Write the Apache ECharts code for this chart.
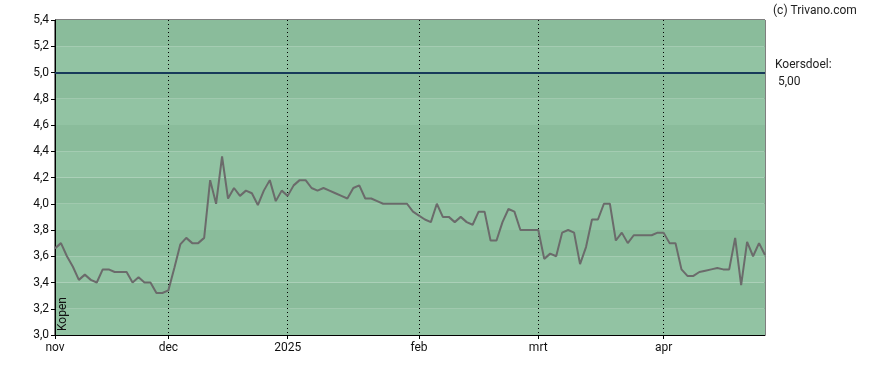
<!DOCTYPE html>
<html><head><meta charset="utf-8">
<script src="https://cdn.jsdelivr.net/npm/echarts@6/dist/echarts.min.js"></script>
<style>html,body{margin:0;padding:0;background:#fff}#c{width:888px;height:370px}</style>
</head><body><div id="c"></div>
<script>
// Trading days, Nov 5 2024 - Apr 28 2025
const dates = [
 '2024-11-05','2024-11-06','2024-11-07','2024-11-08','2024-11-11','2024-11-12','2024-11-13','2024-11-14','2024-11-15',
 '2024-11-18','2024-11-19','2024-11-20','2024-11-21','2024-11-22','2024-11-25','2024-11-26','2024-11-27','2024-11-28','2024-11-29',
 '2024-12-02','2024-12-03','2024-12-04','2024-12-05','2024-12-06','2024-12-09','2024-12-10','2024-12-11','2024-12-12','2024-12-13',
 '2024-12-16','2024-12-17','2024-12-18','2024-12-19','2024-12-20','2024-12-23','2024-12-24','2024-12-27','2024-12-30','2024-12-31',
 '2025-01-02','2025-01-03','2025-01-06','2025-01-07','2025-01-08','2025-01-09','2025-01-10','2025-01-13','2025-01-14','2025-01-15',
 '2025-01-16','2025-01-17','2025-01-20','2025-01-21','2025-01-22','2025-01-23','2025-01-24','2025-01-27','2025-01-28','2025-01-29',
 '2025-01-30','2025-01-31',
 '2025-02-03','2025-02-04','2025-02-05','2025-02-06','2025-02-07','2025-02-10','2025-02-11','2025-02-12','2025-02-13','2025-02-14',
 '2025-02-17','2025-02-18','2025-02-19','2025-02-20','2025-02-21','2025-02-24','2025-02-25','2025-02-26','2025-02-27','2025-02-28',
 '2025-03-03','2025-03-04','2025-03-05','2025-03-06','2025-03-07','2025-03-10','2025-03-11','2025-03-12','2025-03-13','2025-03-14',
 '2025-03-17','2025-03-18','2025-03-19','2025-03-20','2025-03-21','2025-03-24','2025-03-25','2025-03-26','2025-03-27','2025-03-28',
 '2025-03-31',
 '2025-04-01','2025-04-02','2025-04-03','2025-04-04','2025-04-07','2025-04-08','2025-04-09','2025-04-10','2025-04-11',
 '2025-04-14','2025-04-15','2025-04-16','2025-04-17','2025-04-22','2025-04-23','2025-04-24','2025-04-25','2025-04-28'
];
const prices = [
 3.66,3.70,3.60,3.52,3.42,3.46,3.42,3.40,3.50,3.50,3.48,3.48,3.48,3.40,3.44,3.40,3.40,3.32,3.32,
 3.34,3.51,3.69,3.74,3.70,3.70,3.74,4.18,4.00,4.36,4.04,4.12,4.06,4.10,4.08,3.99,4.10,4.18,4.02,4.10,
 4.06,4.14,4.18,4.18,4.12,4.10,4.12,4.10,4.08,4.06,4.04,4.12,4.14,4.04,4.04,4.02,4.00,4.00,4.00,4.00,4.00,3.94,
 3.91,3.88,3.86,4.00,3.90,3.90,3.86,3.90,3.86,3.84,3.94,3.94,3.72,3.72,3.86,3.96,3.94,3.80,3.80,3.80,
 3.80,3.58,3.62,3.60,3.78,3.80,3.78,3.54,3.67,3.88,3.88,4.00,4.00,3.72,3.78,3.70,3.76,3.76,3.76,3.76,3.78,
 3.78,3.70,3.70,3.50,3.45,3.45,3.48,3.49,3.50,3.51,3.50,3.50,3.74,3.38,3.71,3.60,3.70,3.61
];
const monthLabels = {0:'nov',19:'dec',39:'2025',61:'feb',81:'mrt',102:'apr'};
const yTicks = {min:3.0, max:5.4, interval:0.2};
const target = 5.00;
const targetLabel = 'Koersdoel:';
const advice = 'Kopen';
const credit = '(c) Trivano.com';

const fmt = v => v.toFixed(2).replace('.', ',');
const chart = echarts.init(document.getElementById('c'), null, {renderer:'canvas'});
const font = 'Roboto';
chart.setOption({
  animation:false,
  backgroundColor:'#fff',
  grid:{left:55,right:123,top:20,bottom:35,show:true,borderColor:'#000',borderWidth:1,backgroundColor:'transparent'},
  xAxis:{
    type:'category', data:dates, boundaryGap:false,
    axisLine:{show:true,lineStyle:{color:'#000',width:1}},
    axisTick:{show:true,length:4,lineStyle:{color:'#000'},interval:(i)=>monthLabels[i]!==undefined},
    axisLabel:{interval:(i)=>monthLabels[i]!==undefined,formatter:(v,i)=>monthLabels[i]||'',color:'#111',fontFamily:font,fontSize:12,margin:7},
    splitLine:{show:true,interval:(i)=>monthLabels[i]!==undefined && i>0,lineStyle:{color:'#000',type:[1,3],width:1}}
  },
  yAxis:{
    type:'value', min:yTicks.min, max:yTicks.max, interval:yTicks.interval,
    axisLine:{show:true,lineStyle:{color:'#000'}},
    axisTick:{show:true,length:4,lineStyle:{color:'#000'}},
    axisLabel:{formatter:v=>v.toFixed(1).replace('.',','),color:'#111',fontFamily:font,fontSize:12,margin:6},
    splitLine:{show:false},
    splitArea:{show:true,areaStyle:{color:['#92c3a3','#8abc9b']}}
  },
  series:[{
    type:'line', data:prices, symbol:'none',
    lineStyle:{color:'#6b6b6b',width:2},
    markLine:{silent:true,symbol:'none',label:{show:false},
      lineStyle:{color:'#173a5a',width:2,type:'solid'},
      data:[{yAxis:target}]}
  }],
  graphic:[
    {type:'text',left:773,top:5,z:100,style:{text:credit,fontFamily:font,fontSize:12,fill:'#222'}},
    {type:'text',left:775,top:59,z:100,style:{text:targetLabel,fontFamily:font,fontSize:12,fill:'#222'}},
    {type:'text',left:778,top:76,z:100,style:{text:fmt(target),fontFamily:font,fontSize:12,fill:'#222'}},
    {type:'text',x:57,y:331,z:100,rotation:Math.PI/2,style:{text:advice,fontFamily:font,fontSize:12,fill:'#111',textAlign:'left',textVerticalAlign:'top'}}
  ]
});
</script></body></html>
